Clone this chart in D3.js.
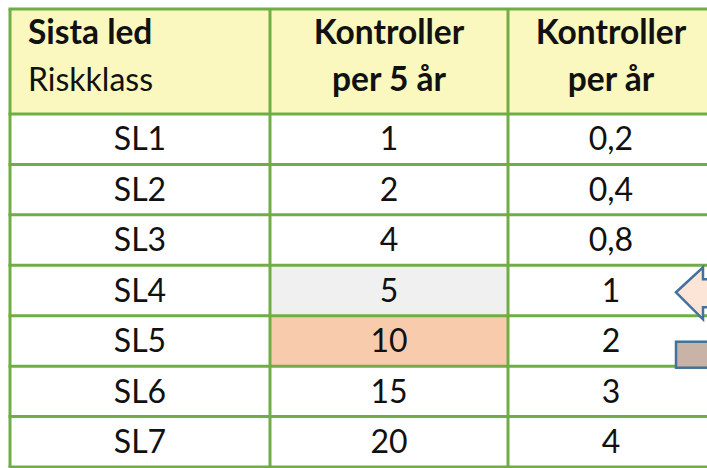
<!DOCTYPE html>
<html>
<head>
<meta charset="utf-8">
<script src="https://cdn.jsdelivr.net/npm/d3@7"></script>
<style>
  html, body { margin: 0; padding: 0; background: #fff; }
  svg { display: block; font-family: Lato, "Noto Sans", sans-serif; }
</style>
</head>
<body>
<svg id="table" width="707" height="468"></svg>
<script>
// table content
const riskClasses = ['SL1', 'SL2', 'SL3', 'SL4', 'SL5', 'SL6', 'SL7'];
const perFiveYears = [1, 2, 4, 5, 10, 15, 20];
const perYear = [0.2, 0.4, 0.8, 1, 2, 3, 4];
const headerBold = ['Sista led', 'Kontroller', 'Kontroller'];
const headerSecond = ['Riskklass', 'per 5 år', 'per år'];

// layout + styles
const tLeft = 10, tTop = 9, headerH = 105, tBottom = 467;
const colWidths = [260, 238, 206];
const border = '#70ad47';
const headerFill = '#faf8be';
const cellFill = { SL4: '#f0f0f0', SL5: '#f8cbad' };
const fontSize = 32, boldSize = 33.5;

const sv = d3.formatLocale({ decimal: ',', thousands: ' ', grouping: [3], currency: ['', ' kr'] });
const fmt = v => (Number.isInteger(v) ? String(v) : sv.format('.1f')(v));

const svg = d3.select('#table');

const xEdges = [tLeft];
colWidths.forEach((w, i) => xEdges.push(xEdges[i] + w));
xEdges[3] += 40;

const y = d3.scaleBand()
  .domain(riskClasses)
  .range([tTop + headerH, tBottom]);

const rows = riskClasses.map((rc, i) => ({ rc, cells: [rc, fmt(perFiveYears[i]), fmt(perYear[i])] }));

// header background
svg.append('rect')
  .attr('x', xEdges[0]).attr('y', tTop)
  .attr('width', xEdges[3] - xEdges[0]).attr('height', headerH)
  .attr('fill', headerFill);

// highlighted cells
svg.selectAll('rect.hl')
  .data(rows.filter(d => cellFill[d.rc]))
  .enter().append('rect')
  .attr('class', 'hl')
  .attr('x', xEdges[1]).attr('y', d => y(d.rc))
  .attr('width', xEdges[2] - xEdges[1]).attr('height', y.bandwidth())
  .attr('fill', d => cellFill[d.rc]);

// header text
const hdr = svg.append('g').attr('fill', '#111');
headerBold.forEach((t, i) => {
  const cx = i === 0 ? xEdges[0] + 18 : xEdges[i] + colWidths[i] / 2;
  const anchor = i === 0 ? 'start' : 'middle';
  hdr.append('text').attr('x', cx).attr('y', tTop + 35)
    .attr('text-anchor', anchor).attr('font-weight', 'bold')
    .attr('font-size', boldSize).text(t);
  hdr.append('text').attr('x', cx).attr('y', tTop + 82)
    .attr('text-anchor', anchor)
    .attr('font-size', i === 0 ? fontSize : boldSize)
    .attr('font-weight', i === 0 ? 'normal' : 'bold').text(headerSecond[i]);
});

// body text
const body = svg.append('g').attr('font-size', fontSize).attr('fill', '#111');
rows.forEach(r => {
  r.cells.forEach((t, i) => {
    body.append('text')
      .attr('x', xEdges[i] + colWidths[i] / 2)
      .attr('y', y(r.rc) + y.bandwidth() / 2)
      .attr('dy', '0.35em')
      .attr('text-anchor', 'middle')
      .text(t);
  });
});

// grid lines
const grid = svg.append('g').attr('stroke', border).attr('stroke-width', 3);
const hLines = [tTop, tTop + headerH].concat(riskClasses.map(rc => y(rc) + y.bandwidth()));
grid.selectAll('line.h').data(hLines).enter().append('line')
  .attr('x1', xEdges[0] - 1.5).attr('x2', xEdges[3])
  .attr('y1', d => d).attr('y2', d => d);
grid.selectAll('line.v').data(xEdges.slice(0, 3)).enter().append('line')
  .attr('x1', d => d).attr('x2', d => d)
  .attr('y1', tTop).attr('y2', tBottom);

// arrow shapes at the right edge
const r4 = y('SL4'), r5 = y('SL5');
const ax = xEdges[2] + 168;
svg.append('path')
  .attr('d', `M${ax},${r4 + 27} L${ax + 27},${r4 + 2} L${ax + 27},${r4 + 14} L${ax + 60},${r4 + 14} L${ax + 60},${r4 + 42} L${ax + 27},${r4 + 42} L${ax + 27},${r4 + 54} Z`)
  .attr('fill', '#fce4d6').attr('stroke', '#41719c').attr('stroke-width', 2.5);
svg.append('rect')
  .attr('x', ax).attr('y', r5 + 26)
  .attr('width', 60).attr('height', 26)
  .attr('fill', '#c9b3a6').attr('stroke', '#41719c').attr('stroke-width', 2.5);
</script>
</body>
</html>
